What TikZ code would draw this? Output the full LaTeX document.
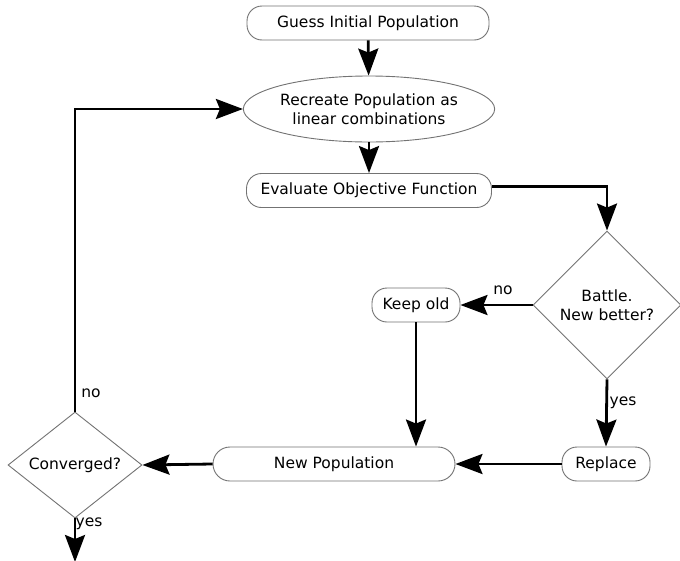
\documentclass[tikz,border=0pt]{standalone}
\usepackage{fontspec}
\setmainfont{DejaVu Sans}
\usetikzlibrary{shapes.geometric,arrows.meta}
\begin{document}
\begin{tikzpicture}[x=1pt,y=-1pt,
  font=\fontsize{15.5}{19}\selectfont,
  box/.style={draw=black!55, line width=0.9pt, rectangle, rounded corners=15pt,
    minimum height=34pt, inner sep=0pt, align=center},
  ell/.style={draw=black!55, line width=0.9pt, ellipse, inner sep=0pt,
    minimum width=228pt, minimum height=66pt, align=center},
  dia/.style={draw=black!55, line width=0.9pt, diamond, inner sep=0pt, align=center},
  conn/.style={line width=2.8pt, -{Stealth[length=27pt,width=20pt,inset=4pt]}},
  lab/.style={inner sep=0pt}]
\useasboundingbox (0,0) rectangle (680,560);
\fill[white] (0,0) rectangle (680,560);

\node[box, minimum width=242pt] (guess) at (368,23) {Guess Initial Population};
\node[ell] (recreate) at (369,109) {Recreate Population as\\linear combinations};
\node[box, minimum width=245pt] (eval) at (369,190.5) {Evaluate Objective Function};
\node[dia, minimum width=148pt, minimum height=148pt] (battle) at (607,305) {Battle.\\New better?};
\node[box, minimum width=88pt] (keep) at (416,305) {Keep old};
\node[box, minimum width=88pt] (replace) at (606,464) {Replace};
\node[box, minimum width=242pt, rounded corners=17pt] (newpop) at (334,464) {New Population};
\node[dia, shape aspect=1.3, minimum width=134pt, minimum height=106pt] (conv) at (75,465) {Converged?};
\coordinate (end) at (75,562);

\draw[conn] (guess) -- (recreate);
\draw[conn] (recreate) -- (eval);
\draw[conn] ([yshift=4pt]eval.east) -| (battle.north);
\draw[conn] (battle.west) -- (keep.east);
\draw[conn] (battle.south) -- (replace.north);
\draw[conn] (keep.south) -- (keep.south |- newpop.north);
\draw[conn] (replace.west) -- (newpop.east);
\draw[conn] (newpop.west) -- (conv.east);
\draw[conn] (conv.north) |- (recreate.west);
\draw[conn] (conv.south) -- (end);

\node[lab] (lno1) at (503,290) {no};
\node[lab] (lyes1) at (623,403) {yes};
\node[lab] (lno2) at (91,393) {no};
\node[lab] (lyes2) at (89,524) {yes};
\end{tikzpicture}
\end{document}
